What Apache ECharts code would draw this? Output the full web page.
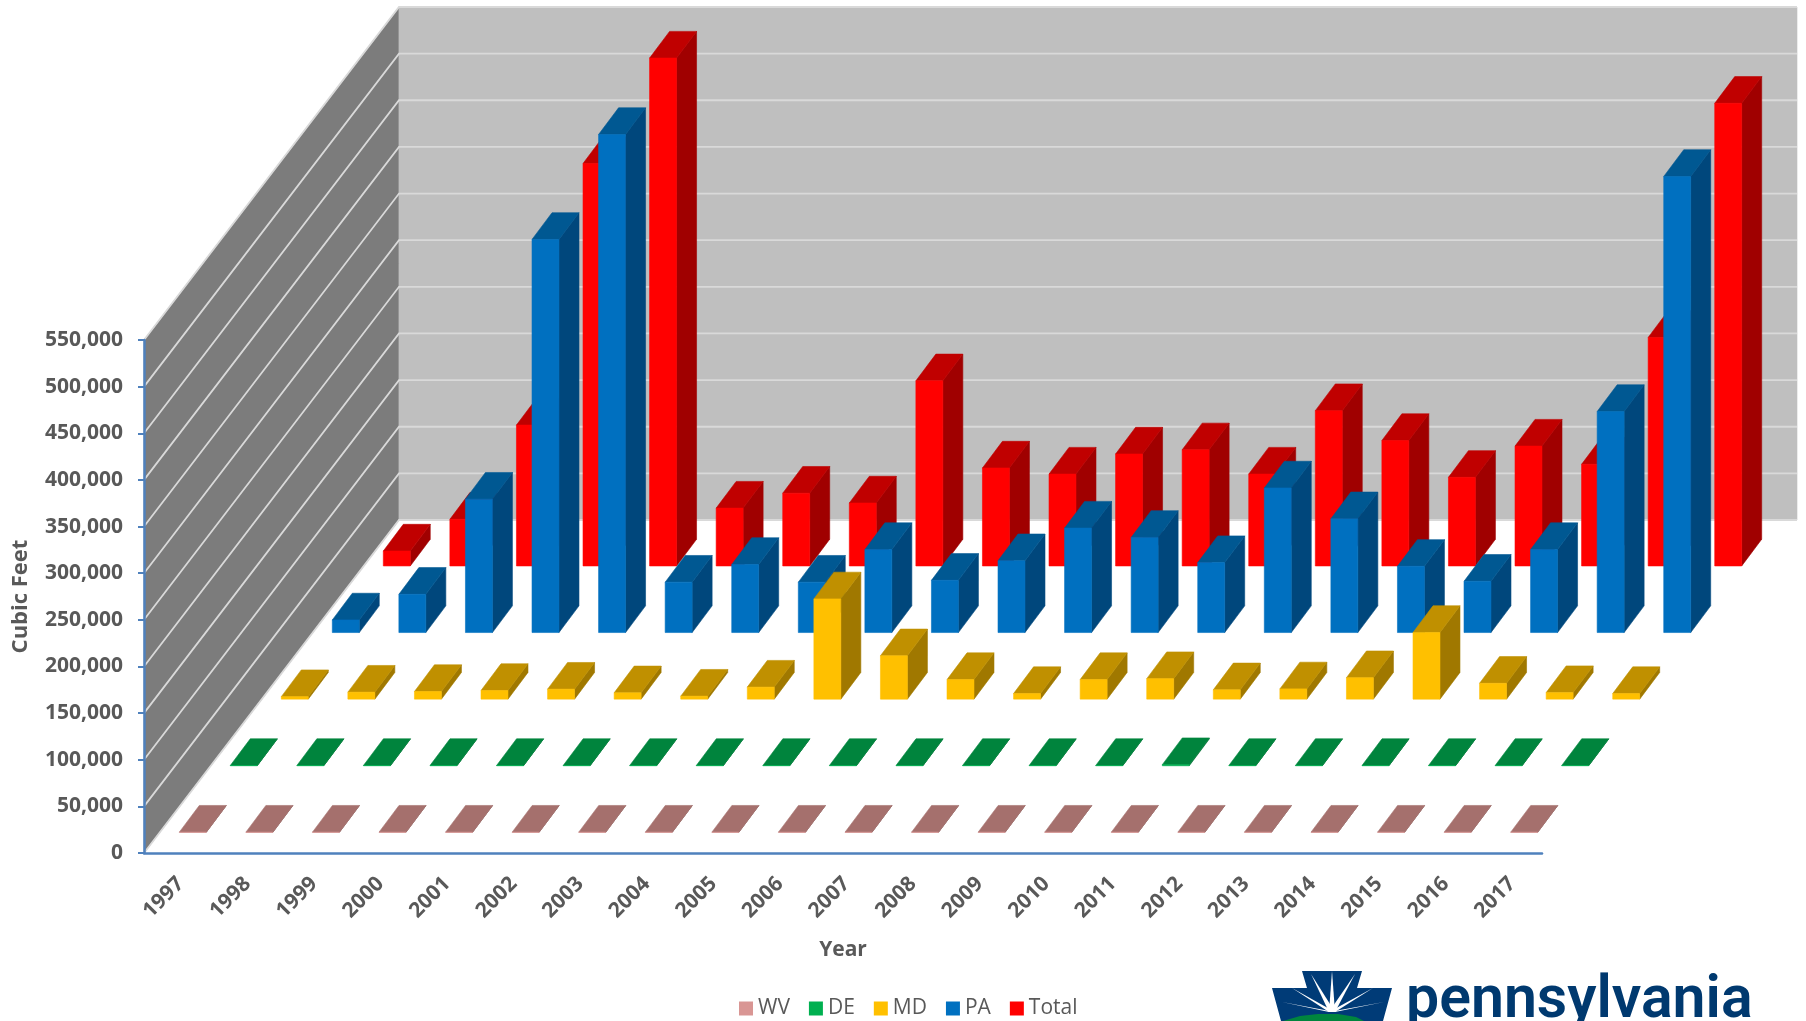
<!DOCTYPE html>
<html>
<head>
<meta charset="utf-8">
<style>html,body{margin:0;padding:0;background:#fff;overflow:hidden}#c{width:1806px;height:1021px}</style>
<script src="https://cdn.jsdelivr.net/npm/echarts@6/dist/echarts.min.js"></script>
</head>
<body>
<div id="c"></div>
<script>
const years = ['1997','1998','1999','2000','2001','2002','2003','2004','2005','2006','2007','2008','2009','2010','2011','2012','2013','2014','2015','2016','2017'];
const yTicks = [0,50000,100000,150000,200000,250000,300000,350000,400000,450000,500000,550000];
const WV = [200,200,200,200,200,200,200,200,200,200,200,200,200,200,200,200,200,200,200,200,200];
const DE = [300,300,300,300,300,300,300,300,300,300,300,300,300,300,1200,300,300,300,300,300,300];
const MD = [2700,7500,8200,9300,10700,6800,3200,12900,107500,46500,21000,6000,21000,22000,10000,11000,23000,71500,17000,7000,6000];
const PA = [13500,41000,143000,421500,534000,54000,73000,54000,89000,56000,77000,112000,102000,75000,155000,122000,71000,55000,89000,237000,489000];
const Total = [16000,50000,151000,431500,544500,62000,78000,67500,198500,105000,98500,120000,124500,98500,166500,134500,95000,128500,109000,245000,496000];

const FRONT = {WV:'#D99694',DE:'#00B050',MD:'#FFC000',PA:'#0070C0',Total:'#FF0000'};
const TOP   = {WV:'#A5706D',DE:'#00843D',MD:'#C09000',PA:'#005892',Total:'#C00000'};
const SIDE  = {WV:'#8A5D5B',DE:'#006F33',MD:'#A07800',PA:'#00477C',Total:'#A00000'};

const DEPTH_X = 255, DEPTH_Y = -333, ROWS = 5, BAR_W = 0.405, BAR_DX = 10, BAR_DY = -13.35, ROW_LIFT = 0.7;

function poly(points, fill, stroke){
  return {type:'polygon', shape:{points}, style:{fill, stroke: stroke||fill, lineWidth:0.6}};
}
function barSeries(name, values, row){
  return {
    name, type:'custom', coordinateSystem:'cartesian2d', z:5+(ROWS-row), silent:true,
    itemStyle:{color:FRONT[name]}, encode:{x:0,y:1},
    data: values.map((v,i)=>[i,v]),
    renderItem(params, api){
      const i = api.value(0), v = api.value(1);
      const b = api.coord([i,0]), t = api.coord([i,v]);
      const w = api.size([1,0])[0]*BAR_W;
      const f = (row+0.5)/ROWS;
      const x0 = b[0]+DEPTH_X*f-w/2-BAR_DX, y0 = b[1]+DEPTH_Y*f-BAR_DY-ROW_LIFT;
      const yt = y0-(b[1]-t[1]), x1 = x0+w, dx = BAR_DX*2, dy = BAR_DY*2;
      return {type:'group', children:[
        poly([[x1,y0],[x1+dx,y0+dy],[x1+dx,yt+dy],[x1,yt]], SIDE[name]),
        poly([[x0,yt],[x1,yt],[x1+dx,yt+dy],[x0+dx,yt+dy]], TOP[name]),
        poly([[x0,y0],[x1,y0],[x1,yt],[x0,yt]], FRONT[name])
      ]};
    }
  };
}
const wallSeries = {
  type:'custom', coordinateSystem:'cartesian2d', z:1, silent:true, encode:{x:0,y:1},
  data:[[0,yTicks[yTicks.length-1]]],
  renderItem(params, api){
    const c = params.coordSys, L = c.x, R = c.x+c.width, B = api.coord([0,0])[1], T = api.coord([0,api.value(1)])[1];
    return {type:'group', children:[
      poly([[L,B],[L,T],[L+DEPTH_X,T+DEPTH_Y],[L+DEPTH_X,B+DEPTH_Y]], '#7C7C7C', '#9a9a9a'),
      poly([[L+DEPTH_X,B+DEPTH_Y],[L+DEPTH_X,T+DEPTH_Y],[R+DEPTH_X,T+DEPTH_Y],[R+DEPTH_X,B+DEPTH_Y]], '#BFBFBF')
    ]};
  }
};
const gridSeries = {
  type:'custom', coordinateSystem:'cartesian2d', z:2, silent:true, encode:{x:0,y:1},
  data: yTicks.map(t=>[0,t]),
  renderItem(params, api){
    const c = params.coordSys, L = c.x, R = c.x+c.width, y = api.coord([0,api.value(1)])[1];
    return {type:'polyline', shape:{points:[[L,y],[L+DEPTH_X,y+DEPTH_Y],[R+DEPTH_X,y+DEPTH_Y]]},
      style:{fill:'none', stroke:'#D9D9D9', lineWidth:1.8}};
  }
};

const rayC = [1332,1018];
const rayTips = [[1282,1002],[1292,988],[1311,974],[1332,971],[1355,974],[1373,988],[1384,1002]];
const rays = rayTips.map(p=>({type:'polygon', z:101, silent:true,
  shape:{points:[[rayC[0]-3,rayC[1]-6],p,[rayC[0]+3,rayC[1]-6]]}, style:{fill:'#fff'}}));

const chart = echarts.init(document.getElementById('c'), null, {renderer:'canvas'});
chart.setOption({
  animation:false,
  backgroundColor:'#fff',
  textStyle:{fontFamily:'"Open Sans"'},
  grid:{left:144, right:264, top:340, bottom:168, containLabel:false, outerBoundsMode:'none'},
  legend:{
    data:['WV','DE','MD','PA','Total'], icon:'rect', left:734, top:993, itemWidth:14, itemHeight:14, itemGap:19, selectedMode:false,
    textStyle:{color:'#595959', fontSize:21, fontFamily:'"Open Sans"'}
  },
  xAxis:{
    type:'category', data:years, z:20,
    name:'Year', nameLocation:'middle', nameGap:87,
    nameTextStyle:{color:'#595959', fontSize:21, fontWeight:'bold', fontFamily:'"Open Sans"'},
    axisLine:{lineStyle:{color:'#4F81BD', width:2.5}}, axisTick:{show:false},
    axisLabel:{rotate:45, color:'#595959', fontSize:21, fontWeight:'bold', margin:24, interval:0, verticalAlign:'top', lineHeight:10}
  },
  yAxis:{
    type:'value', min:0, max:550000, interval:50000, z:20,
    name:'Cubic Feet', nameLocation:'middle', nameGap:112, nameRotate:90,
    nameTextStyle:{color:'#595959', fontSize:22, fontWeight:'bold', fontFamily:'"Open Sans"'},
    axisLine:{show:true, lineStyle:{color:'#4F81BD', width:2.5}},
    axisTick:{show:true, length:6, lineStyle:{color:'#4F81BD', width:2}},
    splitLine:{show:false},
    axisLabel:{color:'#595959', fontSize:21, fontWeight:'bold', margin:21, formatter:v=>v.toLocaleString('en-US')}
  },
  series:[
    wallSeries, gridSeries,
    barSeries('Total',Total,4), barSeries('PA',PA,3), barSeries('MD',MD,2), barSeries('DE',DE,1), barSeries('WV',WV,0)
  ],
  graphic:[
    {type:'polygon', z:100, silent:true, shape:{points:[[1302,971],[1362,971],[1357,988],[1392,988],[1383,1021],[1281,1021],[1272,988],[1307,988]]}, style:{fill:'#003B77'}},
    ...rays,
    {type:'polygon', z:102, silent:true, shape:{points:[[1283,1021],[1300,1016],[1318,1014],[1338,1014],[1356,1017],[1364,1021]]}, style:{fill:'#00853E'}},
    {type:'text', z:103, silent:true, left:1406, top:973, style:{text:'pennsylvania', fill:'#00396F', font:'600 59px Roboto'}}
  ]
});
</script>
</body>
</html>
